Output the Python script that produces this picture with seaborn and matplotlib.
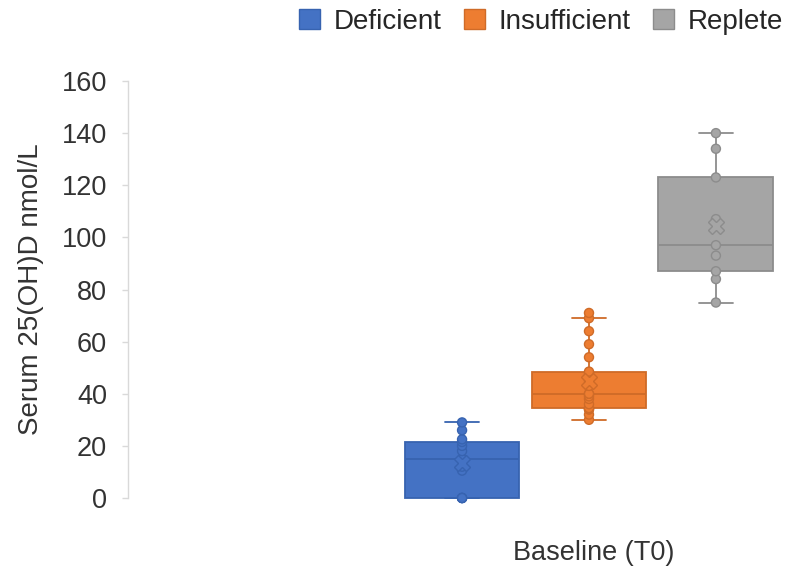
import numpy as np
import pandas as pd
import seaborn as sns
import matplotlib
matplotlib.use("Agg")
import matplotlib.pyplot as plt
from matplotlib.patches import Patch
import matplotlib.transforms as mtrans

# ---- data ----
time_point = "Baseline (T0)"
groups = ["Deficient", "Insufficient", "Replete"]
deficient = [0, 0, 0, 0, 10.5, 12, 15, 18, 20, 21.5, 22.5, 26, 29]
insufficient = [30, 32, 34, 34, 34.5, 34.5, 36, 38, 39, 40, 40, 43, 45, 46,
                48, 48.5, 54, 59, 64, 69, 71]
replete = [75, 84, 87, 93, 97, 107, 123, 134, 140]
y_ticks = [0, 20, 40, 60, 80, 100, 120, 140, 160]
y_label = "Serum 25(OH)D nmol/L"

colors = ["#4472C4", "#ED7D31", "#A5A5A5"]
edge_colors = ["#3763B0", "#CF6B28", "#8C8C8C"]
text_color = "#333333"
axis_color = "#D9D9D9"
fs = 19.5

series = [deficient, insufficient, replete]
df = pd.DataFrame({
    "time": sum([[time_point] * len(v) for v in series], []),
    "group": sum([[g] * len(v) for g, v in zip(groups, series)], []),
    "value": sum(series, []),
})

sns.set_theme(style="white")
plt.rcParams["font.family"] = ["Liberation Sans", "DejaVu Sans"]

W, H = 785, 570
fig = plt.figure(figsize=(W / 100, H / 100), dpi=100)
ax = fig.add_axes([128 / W, 72 / H, (W - 128) / W, 417 / H])

sns.boxplot(data=df, x="time", y="value", hue="group", hue_order=groups,
            palette=colors, saturation=1, width=0.8, gap=0.095,
            showfliers=False, showmeans=True, whis=1.5,
            meanprops=dict(marker="X", markersize=11, markeredgewidth=1),
            capwidths=0.072, linewidth=1.3, legend=False, ax=ax)

for cont, fc, ec in zip(ax.containers, colors, edge_colors):
    for b in cont.boxes:
        b.set_facecolor(fc)
        b.set_edgecolor(ec)
        b.set_clip_on(False)
    for attr in ("whiskers", "caps", "medians"):
        for l in getattr(cont, attr, []):
            l.set_color(ec)
            l.set_clip_on(False)
    for m in getattr(cont, "means", []):
        m.set_markerfacecolor(fc)
        m.set_markeredgecolor(ec)
        m.set_zorder(6)

n_before = len(ax.collections)
sns.stripplot(data=df, x="time", y="value", hue="group", hue_order=groups,
              palette=colors, dodge=True, jitter=False, size=6.5,
              linewidth=1, zorder=5, legend=False, ax=ax)
for coll, ec in zip(ax.collections[n_before:], edge_colors):
    coll.set_edgecolor(ec)
    coll.set_clip_on(False)

ax.set_ylim(0, 160)
ax.set_yticks(y_ticks)
ax.set_xlim(-0.9685, 0.4118)
ax.set_xticks([0])
ax.set_xticklabels([time_point])
ax.set_xlabel("")
ax.set_ylabel(y_label, fontsize=fs + 0.5, color=text_color)
ax.yaxis.set_label_coords(-0.128, 0.5)

for s in ("top", "right", "bottom"):
    ax.spines[s].set_visible(False)
ax.spines["left"].set_color(axis_color)
ax.spines["left"].set_linewidth(1)
ax.tick_params(axis="y", length=4, width=1, color=axis_color, left=True,
               labelsize=fs, labelcolor=text_color, pad=11)
ax.tick_params(axis="x", length=0, labelsize=fs, labelcolor=text_color, pad=30)
offset = mtrans.ScaledTranslation(5 / 100, 0, fig.dpi_scale_trans)
for lbl in ax.get_xticklabels():
    lbl.set_transform(lbl.get_transform() + offset)
ax.grid(False)

handles = [Patch(facecolor=c, edgecolor=ec, label=g)
           for g, c, ec in zip(groups, colors, edge_colors)]
fig.legend(handles=handles, loc="center", bbox_to_anchor=(541 / W, 1 - 22 / H),
           ncol=3, frameon=False, fontsize=20, handlelength=0.75,
           handleheight=0.75, handletextpad=0.5, columnspacing=0.8,
           borderpad=0, borderaxespad=0, labelcolor="#262626")

fig.savefig("out.png", dpi=100)
